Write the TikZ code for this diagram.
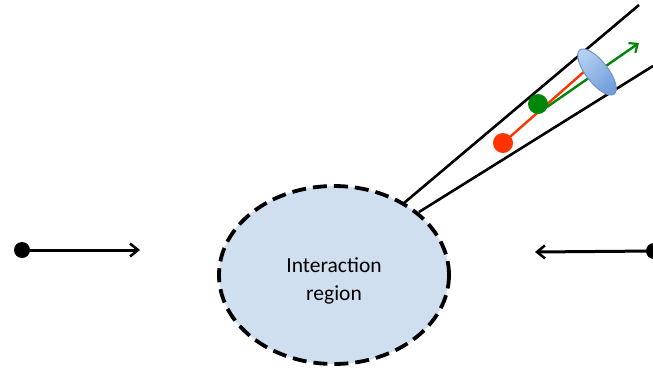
\documentclass[tikz,border=0pt]{standalone}
\usepackage{fontspec}
\setmainfont{Carlito}
\usetikzlibrary{arrows.meta,shapes.geometric}
\definecolor{regionfill}{HTML}{CFDFF0}
\definecolor{pred}{HTML}{FF3300}
\definecolor{pgreen}{HTML}{00870A}
\definecolor{lensA}{HTML}{B5D0F2}
\definecolor{lensB}{HTML}{6F9CDA}
\definecolor{lensE}{HTML}{6C93CC}
\tikzset{
  beamdot/.style={circle,fill=black,inner sep=0pt,minimum size=16pt},
  beam/.style={line width=3pt,-{Straight Barb[length=8pt,width=13pt,line width=2.5pt]}},
  cone/.style={line width=2.6pt},
  region/.style={ellipse,draw=black,fill=regionfill,line width=3.8pt,dash pattern=on 14pt off 7pt,minimum width=230pt,minimum height=178pt,inner sep=0pt},
  pdot/.style={circle,inner sep=0pt,minimum size=20pt},
}
\begin{document}
\begin{tikzpicture}[x=1pt,y=-1pt]
\useasboundingbox (0,0) rectangle (653,370);
% interaction region
\node[region] (reg) at (334,275) {};
\node[font=\fontsize{21.5pt}{28pt}\selectfont,text=black,align=center] (lbl) at (334,281) {Interaction\\region};
% beams
\node[beamdot] (ldot) at (22,250) {};
\coordinate (lend) at (140,250);
\draw[beam] (ldot.center) -- (lend);
\node[beamdot] (rdot) at (654,251) {};
\coordinate (rend) at (535,252);
\draw[beam] (rdot.center) -- (rend);
% detector cone
\coordinate (c1a) at (404,203);
\coordinate (c1b) at (639,5);
\coordinate (c2a) at (419,212);
\coordinate (c2b) at (653,66);
\draw[cone] (c1a) -- (c1b);
\draw[cone] (c2a) -- (c2b);
% particles
\node[pdot,fill=pred] (red) at (503,143) {};
\coordinate (redend) at (586,70);
\draw[pred,line width=2.4pt] (red.center) -- (redend);
\node[pdot,fill=pgreen] (green) at (538,104) {};
\coordinate (gstart) at (547,107);
\coordinate (gtip) at (639,43);
\draw[pgreen,line width=2.4pt,-{Straight Barb[length=7pt,width=12pt,line width=2.2pt]}] (gstart) -- (gtip);
% lens
\node[ellipse,minimum width=22pt,minimum height=56pt,inner sep=0pt,rotate=38,draw=lensE,line width=1pt,top color=lensA,bottom color=lensB,shading angle=40] (lens) at (597,72) {};
\end{tikzpicture}
\end{document}
